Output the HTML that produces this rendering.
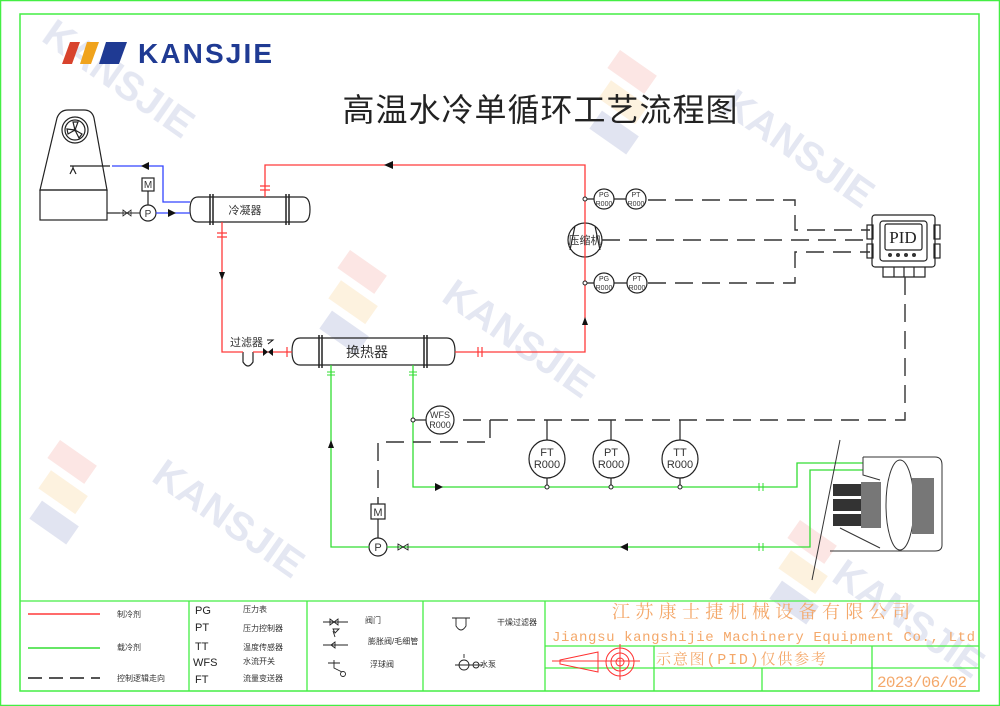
<!DOCTYPE html>
<html><head><meta charset="utf-8"><style>
html,body{margin:0;padding:0;background:#fff;}
svg{display:block;font-family:"Liberation Sans","Noto Sans CJK SC",sans-serif;}
.s{font-family:"Liberation Serif","Noto Serif CJK SC",serif;}
</style></head><body>
<svg width="1000" height="706" viewBox="0 0 1000 706" xmlns="http://www.w3.org/2000/svg">
<!-- watermarks -->
<g opacity="0.14">
 <g fill="#3a4fa0" font-size="40" font-weight="bold">
  <text x="0" y="0" transform="translate(40,40) rotate(35)">KANSJIE</text>
  <text x="0" y="0" transform="translate(720,110) rotate(35)">KANSJIE</text>
  <text x="0" y="0" transform="translate(440,300) rotate(35)">KANSJIE</text>
  <text x="0" y="0" transform="translate(150,480) rotate(35)">KANSJIE</text>
  <text x="0" y="0" transform="translate(830,580) rotate(35)">KANSJIE</text>
 </g>
 <g transform="translate(350,250) rotate(35)"><rect x="0" y="0" width="45" height="22" fill="#e5483a"/><rect x="10" y="30" width="45" height="22" fill="#f0a31c"/><rect x="20" y="60" width="45" height="22" fill="#2a3f9a"/></g>
 <g transform="translate(620,50) rotate(35)"><rect x="0" y="0" width="45" height="22" fill="#e5483a"/><rect x="10" y="30" width="45" height="22" fill="#f0a31c"/><rect x="20" y="60" width="45" height="22" fill="#2a3f9a"/></g>
 <g transform="translate(60,440) rotate(35)"><rect x="0" y="0" width="45" height="22" fill="#e5483a"/><rect x="10" y="30" width="45" height="22" fill="#f0a31c"/><rect x="20" y="60" width="45" height="22" fill="#2a3f9a"/></g>
 <g transform="translate(800,520) rotate(35)"><rect x="0" y="0" width="45" height="22" fill="#e5483a"/><rect x="10" y="30" width="45" height="22" fill="#f0a31c"/><rect x="20" y="60" width="45" height="22" fill="#2a3f9a"/></g>
</g>
<!-- frames -->
<rect x="0.5" y="0.5" width="999" height="705" fill="none" stroke="#44ee44" stroke-width="1.5"/>
<rect x="20" y="14" width="959" height="677" fill="none" stroke="#44ee44" stroke-width="1.5"/>
<!-- logo -->
<polygon points="70,42 80,42 72,64 62,64" fill="#d8432d"/>
<polygon points="87,42 99,42 91,64 80,64" fill="#f0a31c"/>
<polygon points="106,42 127,42 119,64 99,64" fill="#1f3a93"/>
<text x="138" y="63" font-size="28" font-weight="bold" fill="#1f3a93" textLength="134">KANSJIE</text>
<text x="540" y="121" font-size="32" text-anchor="middle" fill="#222" textLength="395">高温水冷单循环工艺流程图</text>

<g fill="none" stroke="#222" stroke-width="1.2">
 <!-- cooling tower -->
 <path d="M40,190 L57,118 Q60,110 68,110 L84,110 Q92,110 94,118 L107,190 Z"/>
 <rect x="40" y="190" width="67" height="30"/>
 <circle cx="75" cy="130" r="13"/><circle cx="75" cy="130" r="10"/>
 <path d="M75,130 l-2,-8 l5,0 z M75,130 l7,4 l-3,4 z M75,130 l-7,4 l-1,-5 z"/>
 <path d="M70,174 l3,-6 l3,6 M73,168 l0,-2 M70,166 L110,166"/>
 <path d="M107,213 L120,213"/>
 <!-- condenser -->
 <path d="M198,197 L303,197 Q310,197 310,209.5 Q310,222 303,222 L198,222 Q190,222 190,209.5 Q190,197 198,197 Z"/>
 <path d="M210,194 v31 M213,194 v31 M286,194 v31 M289,194 v31" stroke-width="1.5"/>
 <!-- heat exchanger -->
 <path d="M300,338 L447,338 Q455,338 455,351.5 Q455,365 447,365 L300,365 Q292,365 292,351.5 Q292,338 300,338 Z"/>
 <path d="M319,335 v33 M322,335 v33 M424,335 v33 M427,335 v33" stroke-width="1.5"/>
 <!-- filter -->
 <path d="M243,352 v10 q5,8 10,0 v-10"/>
 <!-- compressor -->
 <circle cx="585" cy="240" r="17"/>
 <path d="M575,226 L570,250 M595,226 L600,250"/>
 <!-- pumps -->
 <circle cx="148" cy="213" r="8"/><rect x="142" y="178" width="12" height="13"/><path d="M148,191 V205"/>
 <circle cx="378" cy="547" r="9"/><rect x="371" y="504" width="14" height="15"/><path d="M378,519 V538"/>
 <!-- instrument circles -->
 <circle cx="604" cy="199" r="10"/><circle cx="636" cy="199" r="10"/><path d="M585,199 h9 M614,199 h12"/>
 <circle cx="604" cy="283" r="10"/><circle cx="637" cy="283" r="10"/><path d="M585,283 h9 M614,283 h13"/>
 <circle cx="440" cy="420" r="14"/><path d="M413,420 h13"/>
 <ellipse cx="547" cy="459" rx="18" ry="19"/><ellipse cx="611" cy="459" rx="18" ry="19"/><ellipse cx="680" cy="459" rx="18" ry="19"/>
 <path d="M547,420 v20 M611,420 v20 M680,420 v20 M547,478 v9 M611,478 v9 M680,478 v9"/>
 <!-- PID -->
 <rect x="872" y="215" width="63" height="52" rx="3"/>
 <rect x="880" y="221" width="47" height="40" rx="3"/>
 <rect x="885" y="224" width="37" height="26" rx="2"/>
 <rect x="867" y="225" width="6" height="14"/><rect x="867" y="244" width="6" height="14"/>
 <rect x="934" y="225" width="6" height="14"/><rect x="934" y="244" width="6" height="14"/>
 <path d="M883,267 v10 h42 v-10 M894,267 v10 M904,267 v10 M914,267 v10"/>
</g>
<text x="903" y="243" font-size="17" text-anchor="middle" class="s" fill="#222">PID</text>
<g fill="#333"><circle cx="890" cy="255" r="2"/><circle cx="898" cy="255" r="2"/><circle cx="906" cy="255" r="2"/><circle cx="914" cy="255" r="2"/></g>

<!-- red refrigerant -->
<g fill="none" stroke="#ff3a3a" stroke-width="1.3">
 <path d="M265,197 V165 H585 V352 H455"/>
 <path d="M222,222 V352 H243 M253,352 H292"/>
</g>
<g stroke="#ff3a3a" stroke-width="1.2"><path d="M260,186 h10 M260,190 h10 M217,233 h10 M217,237 h10 M478,347 v10 M482,347 v10 M287,347 v10"/></g>
<g fill="#111"><path d="M384,165 l9,-4 v8 z"/><path d="M222,280 l-3,-8 h6 z"/><path d="M585,317 l-3,8 h6 z"/><path d="M268,352 l-5,-4 v8 z M268,352 l5,-4 v8 z"/></g>
<path d="M268,344 l5,-4 h-6" stroke="#111" fill="none"/>

<!-- blue water -->
<g fill="none" stroke="#3344ff" stroke-width="1.3"><path d="M190,202 H163 V166 H112"/><path d="M156,213 H190"/></g>
<g fill="#111"><path d="M141,166 l8,-4 v8 z"/><path d="M176,213 l-8,-4 v8 z"/></g>
<path d="M120,213 h20" stroke="#222"/><path d="M123,210 l8,6 v-6 l-8,6 z" stroke="#222" fill="none" stroke-width="0.8"/>

<!-- green loop -->
<g fill="none" stroke="#33dd33" stroke-width="1.3">
 <path d="M331,365 V547 H369 M387,547 H810 V470 H863"/>
 <path d="M413,365 V487 H797 V463 H863"/>
</g>
<g stroke="#33dd33"><path d="M327,372 h8 M327,375 h8 M409,372 h8 M409,375 h8 M759,483 v8 M763,483 v8 M759,543 v8 M763,543 v8"/></g>
<g fill="#111"><path d="M331,440 l-3,8 h6 z"/><path d="M443,487 l-8,-4 v8 z"/><path d="M620,547 l8,-4 v8 z"/></g>
<path d="M398,544 l10,6 v-6 l-10,6 z" stroke="#222" fill="none" stroke-width="0.9"/>
<g fill="#fff" stroke="#222"><circle cx="413" cy="420" r="2"/><circle cx="547" cy="487" r="2"/><circle cx="611" cy="487" r="2"/><circle cx="680" cy="487" r="2"/><circle cx="585" cy="199" r="2"/><circle cx="585" cy="283" r="2"/></g>

<!-- dashed control -->
<g fill="none" stroke="#333" stroke-width="1.4" stroke-dasharray="18,9">
 <path d="M648,200 H795 V230 H870"/>
 <path d="M602,240 H870"/>
 <path d="M648,283 H795 V252 H870"/>
 <path d="M905,277 V420 H455"/>
 <path d="M490,420 V442 H378 V504"/>
</g>

<!-- machine -->
<g fill="none" stroke="#333" stroke-width="1">
 <path d="M840,440 L812,580"/>
 <path d="M863,457 H935 Q942,457 942,465 V545 Q942,551 935,551 H830"/>
 <ellipse cx="900" cy="505" rx="14" ry="45"/>
 <path d="M863,457 V475 L880,480 M840,528 L880,548"/>
</g>
<g fill="#333"><rect x="833" y="484" width="28" height="12"/><rect x="833" y="499" width="28" height="12"/><rect x="833" y="514" width="28" height="12"/></g>
<g fill="#777"><rect x="861" y="482" width="20" height="46"/><rect x="912" y="478" width="22" height="56"/></g>

<!-- labels -->
<g fill="#333" font-size="10">
 <text x="245" y="214" text-anchor="middle" font-size="11">冷凝器</text>
 <text x="367" y="357" text-anchor="middle" font-size="14">换热器</text>
 <text x="230" y="346" font-size="11">过滤器</text>
 <text x="585" y="244" text-anchor="middle" font-size="11">压缩机</text>
 <text x="148" y="188" text-anchor="middle">M</text><text x="148" y="217" text-anchor="middle">P</text>
 <text x="378" y="516" text-anchor="middle" font-size="11">M</text><text x="378" y="551" text-anchor="middle" font-size="11">P</text>
 <g font-size="7" text-anchor="middle"><text x="604" y="197">PG</text><text x="604" y="206">R000</text><text x="636" y="197">PT</text><text x="636" y="206">R000</text>
 <text x="604" y="281">PG</text><text x="604" y="290">R000</text><text x="637" y="281">PT</text><text x="637" y="290">R000</text></g>
 <g font-size="9" text-anchor="middle"><text x="440" y="418">WFS</text><text x="440" y="428">R000</text></g>
 <g font-size="11" text-anchor="middle"><text x="547" y="456">FT</text><text x="547" y="468">R000</text><text x="611" y="456">PT</text><text x="611" y="468">R000</text><text x="680" y="456">TT</text><text x="680" y="468">R000</text></g>
</g>

<!-- legend -->
<g fill="none" stroke="#44ee44" stroke-width="1.3">
 <path d="M20,601 H979 M189,601 V691 M307,601 V691 M423,601 V691 M545,601 V691 M545,646 H979 M545,668 H979 M654,646 V691 M762,668 V691 M872,646 V691"/>
</g>
<path d="M28,614 H100" stroke="#ff3a3a" stroke-width="1.5"/>
<path d="M28,648 H100" stroke="#33dd33" stroke-width="1.5"/>
<path d="M28,678 H100" stroke="#555" stroke-width="2" stroke-dasharray="14,7"/>
<g font-size="8" fill="#333">
 <text x="117" y="617">制冷剂</text><text x="117" y="650">载冷剂</text><text x="117" y="681">控制逻辑走向</text>
 <text x="243" y="612">压力表</text><text x="243" y="631">压力控制器</text><text x="243" y="650">温度传感器</text><text x="243" y="664">水流开关</text><text x="243" y="681">流量变送器</text>
 <text x="365" y="623">阀门</text><text x="368" y="644">膨胀阀/毛细管</text><text x="370" y="667">浮球阀</text>
 <text x="497" y="625">干燥过滤器</text><text x="480" y="667">水泵</text>
</g>
<g font-size="11" fill="#222"><text x="195" y="614">PG</text><text x="195" y="631">PT</text><text x="195" y="650">TT</text><text x="193" y="666">WFS</text><text x="195" y="683">FT</text></g>
<g fill="none" stroke="#222" stroke-width="0.9">
 <path d="M323,622 h25 M330,619 l8,6 v-6 l-8,6 z"/>
 <path d="M323,645 h25 M335,642 l-4,3 l4,3 z M335,633 l4,-4 h-6 z M335,637 l-2,-6"/>
 <path d="M328,663 h12 M334,660 v8 l8,4"/><circle cx="343" cy="674" r="2.5"/>
 <path d="M452,618 h18 M456,618 v8 q5,8 10,0 v-8"/>
 <path d="M455,665 h28 M464,658 v-4"/><circle cx="464" cy="665" r="5"/><circle cx="476" cy="665" r="3"/>
</g>
<g stroke="#ff3030" fill="none" stroke-width="1">
 <path d="M560,660 L598,652 V672 L560,664 Z M552,661 H640"/>
 <circle cx="620" cy="662" r="14"/><circle cx="620" cy="662" r="9"/><circle cx="620" cy="662" r="4"/><path d="M620,644 V680"/>
</g>
<g fill="#f4a86a" font-family="Liberation Mono,'Noto Serif CJK SC',monospace">
 <text x="612" y="618" font-size="18" textLength="298" font-family="'Noto Serif CJK SC',serif">江苏康士捷机械设备有限公司</text>
 <text x="552" y="641" font-size="14" textLength="423">Jiangsu kangshijie Machinery Equipment Co., Ltd</text>
 <text x="656" y="664" font-size="15" textLength="170">示意图(PID)仅供参考</text>
 <text x="877" y="687" font-size="16" textLength="90">2023/06/02</text>
</g>
</svg>
</body></html>
